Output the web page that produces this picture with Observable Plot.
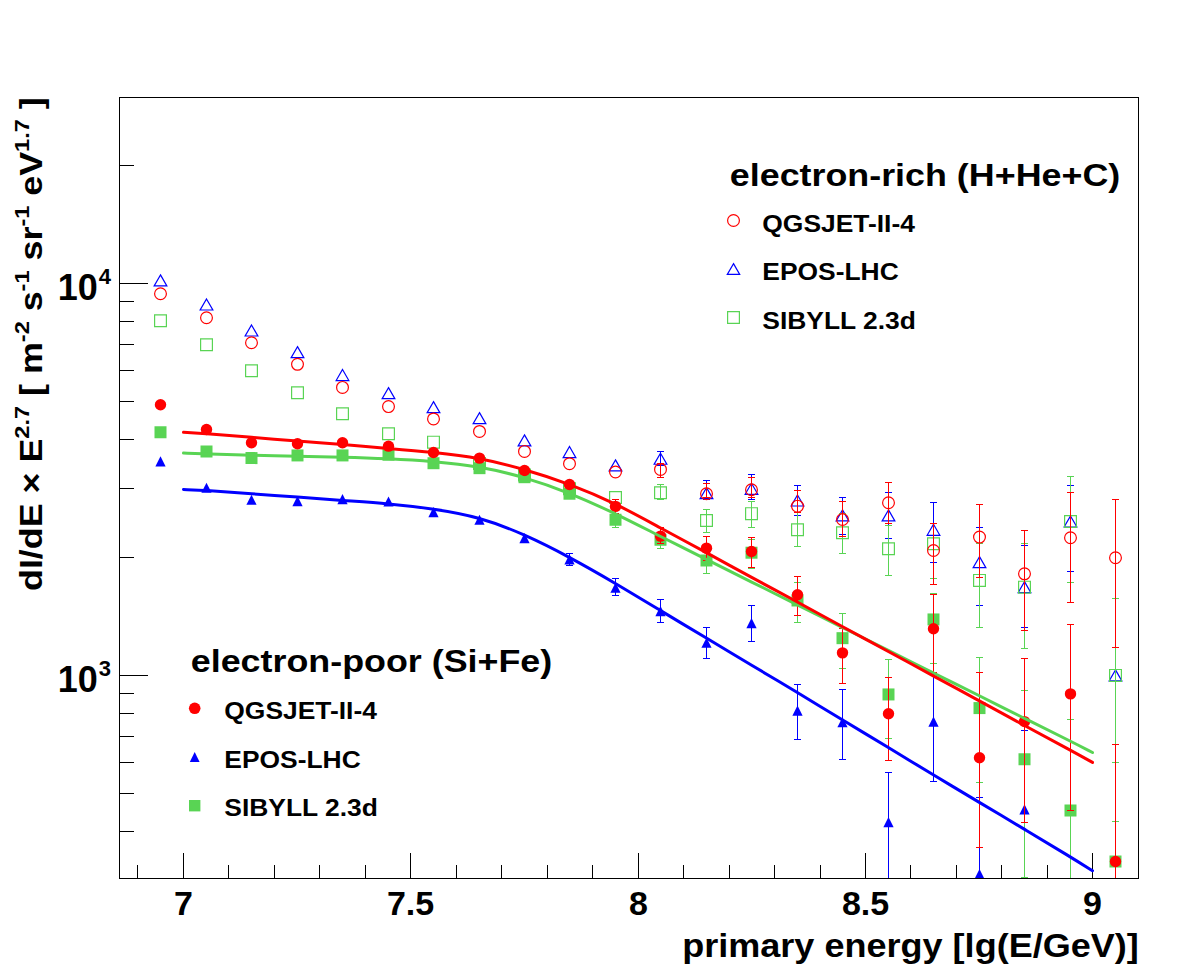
<!DOCTYPE html>
<html><head><meta charset="utf-8">
<script src="https://cdn.jsdelivr.net/npm/d3@7"></script>
<script src="https://cdn.jsdelivr.net/npm/@observablehq/plot@0.6"></script>
<style>html,body{margin:0;padding:0;background:#fff;} svg{display:block;}</style>
</head><body><div id="chart"></div>
<script>
// ---------- data ----------
const energy = [6.95,7.05,7.15,7.25,7.35,7.45,7.55,7.65,7.75,7.85,7.95,8.05,8.15,8.25,8.35,8.45,8.55,8.65,8.75,8.85,8.95,9.05];
const N = null;

// electron-rich (H+He+C), open markers
const richQGS   = [9430,8190,7070,6230,5440,4860,4520,4200,3735,3475,3310,3360,2913,2982,2708,2504,2763,2087,2258,1820,2249,2000];
const richQGSLo = [N,N,N,N,N,N,N,N,N,N,N,3211,2846,2855,2615,2260,2441,1710,1778,1305,1536,1183];
const richQGSHi = [N,N,N,N,N,N,N,N,N,N,N,3486,3089,3211,2970,2780,3118,2451,2731,2348,2940,2812];

const richEPOS   = [10200,8855,7600,6690,5850,5260,4845,4540,3985,3720,3440,3578,2923,2999,2800,2565,2565,2357,1949,1683,2475,1002];
const richEPOSLo = [N,N,N,N,N,N,N,N,N,N,N,3440,2816,2816,2564,2289,2236,1949,1511,1330,1850,425];
const richEPOSHi = [N,N,N,N,N,N,N,N,N,N,N,3741,3148,3256,3058,2844,2930,2763,2394,2150,3050,1572];

const richSIB   = [8045,6990,6000,5270,4660,4143,3944,3480,3250,3000,2850,2930,2490,2591,2357,2316,2109,2171,1751,1683,2475,1002];
const richSIBLo = [N,N,N,N,N,N,N,N,N,N,N,2812,2324,2394,2137,2048,1803,1768,1326,1172,1727,425];
const richSIBHi = [N,N,N,N,N,N,N,N,N,N,N,3070,2652,2788,2611,2600,2418,2448,2171,2171,3224,1572];

// electron-poor (Si+Fe), filled markers
const poorQGS   = [4912,4249,3930,3907,3930,3852,3712,3591,3339,3076,2704,2271,2116,2075,1609,1144,800,1318,618,764,899,336];
const poorQGSLo = [N,N,N,N,N,N,N,N,N,N,2600,2171,1968,1892,1425,954,608,1018,365,423,453,100];
const poorQGSHi = [N,N,N,N,N,N,N,N,N,N,2816,2394,2267,2249,1796,1318,992,1612,1019,1105,1349,667];

const poorEPOS   = [3521,3017,2812,2788,2821,2783,2615,2500,2244,1981,1677,1461,1214,1362,815,761,423,764,312,456,N,N];
const poorEPOSLo = [N,N,N,N,N,N,N,N,N,1911,1602,1365,1109,1226,688,611,100,538,100,100,N,N];
const poorEPOSHi = [N,N,N,N,N,N,N,N,N,2055,1768,1563,1326,1511,948,921,566,1012,489,725,N,N];

const poorSIB   = [4182,3735,3591,3648,3648,3663,3485,3385,3210,2913,2500,2223,1968,2060,1556,1247,896,1392,827,612,453,336];
const poorSIBLo = [N,N,N,N,N,N,N,N,N,N,2394,2109,1820,1880,1365,1042,691,1077,533,306,100,100];
const poorSIBHi = [N,N,N,N,N,N,N,N,N,N,2564,2302,2109,2230,1727,1440,1099,1622,1115,917,772,600];

// fit curves for electron-poor
const fitEnergy = [7.0,7.05,7.15,7.25,7.35,7.45,7.55,7.65,7.75,7.85,7.95,8.05,8.15,8.25,8.35,8.45,8.55,8.65,8.75,8.85,8.95,9.0];
const fitQGS  = [4178,4150,4055,3972,3890,3802,3715,3597,3365,3090,2754,2382,2061,1782,1542,1334,1153,998,863,746,646,601];
const fitSIB  = [3698,3681,3648,3631,3614,3581,3524,3420,3214,2931,2594,2265,1982,1734,1517,1327,1161,1016,889,778,681,637];
const fitEPOS = [2985,2972,2911,2858,2799,2748,2667,2541,2296,2009,1722,1466,1247,1064,906,771,656,558,475,406,345,318];

// ticks and labels
const xMajor = [7, 7.5, 8, 8.5, 9];
const xMinor = [6.9,7.1,7.2,7.3,7.4,7.6,7.7,7.8,7.9,8.1,8.2,8.3,8.4,8.6,8.7,8.8,8.9];
const yMajor = [1000, 10000];
const yMinor = [400,500,600,700,800,900,2000,3000,4000,5000,6000,7000,8000,9000,20000];
const modelNames = ["QGSJET-II-4", "EPOS-LHC", "SIBYLL 2.3d"];
const richTitle = "electron-rich (H+He+C)";
const poorTitle = "electron-poor (Si+Fe)";
const xTitle = "primary energy [lg(E/GeV)]";

// ---------- styling ----------
const RED = "#ff0000", BLUE = "#0000ff", GREEN = "#59d454";
const W = 1198, H = 976, ML = 119.3, MR = 59.7, MT = 97.3, MB = 97.7;
const PW = W - ML - MR, PH = H - MT - MB;

const triOpen = {draw(ctx, size){const r=Math.sqrt(size/Math.PI), h=r*0.87; ctx.moveTo(0,-h); ctx.lineTo(r,h); ctx.lineTo(-r,h); ctx.closePath();}};
const triFill = {draw(ctx, size){const r=Math.sqrt(size/Math.PI); ctx.moveTo(0,-r); ctx.lineTo(r,r); ctx.lineTo(-r,r); ctx.closePath();}};
const square  = {draw(ctx, size){const r=Math.sqrt(size/Math.PI); ctx.rect(-r,-r,2*r,2*r);}};
const capSym  = {draw(ctx, size){const r=Math.sqrt(size/Math.PI); ctx.moveTo(-r,0); ctx.lineTo(r,0);}};

function rows(v, lo, hi){ return energy.map((x,i)=>({x, v:v[i], lo:lo[i], hi:hi[i]})).filter(d=>d.v!=null); }

// drawing order as in the reference: EPOS, then SIBYLL, then QGSJET on top
const richSeries = [
  {color: BLUE,  data: rows(richEPOS, richEPOSLo, richEPOSHi), symbol: triOpen,  r: 6.35, open: true},
  {color: GREEN, data: rows(richSIB, richSIBLo, richSIBHi),   symbol: square,   r: 5.9, open: true},
  {color: RED,   data: rows(richQGS, richQGSLo, richQGSHi),   symbol: "circle", r: 5.9, open: true}
];
const poorSeries = [
  {color: BLUE,  data: rows(poorEPOS, poorEPOSLo, poorEPOSHi), symbol: triFill,  r: 5.1, open: false},
  {color: GREEN, data: rows(poorSIB, poorSIBLo, poorSIBHi),   symbol: square,   r: 6.0, open: false},
  {color: RED,   data: rows(poorQGS, poorQGSLo, poorQGSHi),   symbol: "circle", r: 5.7, open: false}
];

function seriesMarks(s){
  const errs = s.data.filter(d=>d.lo!=null);
  return [
    Plot.ruleX(errs, {x:"x", y1:"lo", y2:"hi", stroke:s.color, strokeWidth:1, shapeRendering:"crispEdges", clip:"frame"}),
    Plot.dot(errs, {x:"x", y:"hi", symbol:capSym, r:3.5, fill:"none", stroke:s.color, strokeWidth:1, shapeRendering:"crispEdges", clip:"frame"}),
    Plot.dot(errs, {x:"x", y:"lo", symbol:capSym, r:3.5, fill:"none", stroke:s.color, strokeWidth:1, shapeRendering:"crispEdges", clip:"frame"}),
    Plot.dot(s.data, {x:"x", y:"v", symbol:s.symbol, r:s.r,
      fill: s.open ? "none" : s.color, stroke: s.open ? s.color : "none",
      strokeWidth: 1.2, clip:"frame"})
  ];
}
function fitLine(xs, vs, color){
  return Plot.line(xs.map((x,i)=>({x, v:vs[i]})), {x:"x", y:"v", stroke:color, strokeWidth:3, curve:"basis", clip:"frame"});
}

// legends
const richLegendSym = [
  {symbol:"circle", r:5.9, open:true, color:RED},
  {symbol:triOpen, r:6.2, open:true, color:BLUE},
  {symbol:square, r:5.9, open:true, color:GREEN}
];
const poorLegendSym = [
  {symbol:"circle", r:5.8, open:false, color:RED},
  {symbol:triFill, r:4.9, open:false, color:BLUE},
  {symbol:square, r:5.7, open:false, color:GREEN}
];
function legend(title, tdx, tdy, syms, mdx, mdy0, tx, ty0, step){
  const m = [Plot.text([title], {frameAnchor:"top-left", text:d=>d, dx:tdx, dy:tdy, textAnchor:"start", lineAnchor:"bottom", fontSize:32, fontWeight:"bold", fill:"black"})];
  syms.forEach((s,i)=>{
    m.push(Plot.dot([modelNames[i]], {frameAnchor:"top-left", dx:mdx, dy:mdy0+i*step, symbol:s.symbol, r:s.r,
      fill: s.open ? "none" : s.color, stroke: s.open ? s.color : "none", strokeWidth:1.2}));
    m.push(Plot.text([modelNames[i]], {frameAnchor:"top-left", text:d=>d, dx:tx, dy:ty0+i*step, textAnchor:"start", lineAnchor:"bottom", fontSize:24, fontWeight:"bold", fill:"black"}));
  });
  return m;
}

const chart = Plot.plot({
  width: W, height: H,
  marginLeft: ML, marginRight: MR, marginTop: MT, marginBottom: MB,
  x: {domain: [6.86, 9.101], axis: null, round: true},
  y: {type: "log", domain: [303.4, 29810], axis: null},
  style: {fontFamily: "'Liberation Sans', Arial, sans-serif", background: "white", color: "black"},
  marks: [
    // ticks (inside the frame, ROOT style)
    Plot.ruleX(xMajor, {x:d=>d, insetTop: PH - 25.7, stroke:"black", strokeWidth:1, shapeRendering:"crispEdges"}),
    Plot.ruleX(xMinor, {x:d=>d, insetTop: PH - 13.3, stroke:"black", strokeWidth:1, shapeRendering:"crispEdges"}),
    Plot.ruleY(yMajor, {y:d=>d, insetRight: PW - 28.7, stroke:"black", strokeWidth:1, shapeRendering:"crispEdges"}),
    Plot.ruleY(yMinor, {y:d=>d, insetRight: PW - 14.3, stroke:"black", strokeWidth:1, shapeRendering:"crispEdges"}),
    // data
    ...richSeries.flatMap(seriesMarks),
    ...poorSeries.flatMap(seriesMarks),
    fitLine(fitEnergy, fitSIB, GREEN),
    fitLine(fitEnergy, fitQGS, RED),
    fitLine(fitEnergy, fitEPOS, BLUE),
    Plot.frame({stroke:"black", strokeWidth:1, shapeRendering:"crispEdges"}),
    // tick labels
    Plot.text(xMajor, {x:d=>d, text:d=>String(d), frameAnchor:"bottom", lineAnchor:"bottom", dy:35.7, fontSize:34, fontWeight:"bold", fill:"black"}),
    Plot.text(yMajor, {y:d=>d, text:()=> "10", frameAnchor:"left", textAnchor:"end", lineAnchor:"bottom", dx:-22, dy:16, fontSize:36, fontWeight:"bold", fill:"black"}),
    Plot.text(yMajor, {y:d=>d, text:d=>String(Math.round(Math.log10(d))), frameAnchor:"left", textAnchor:"start", lineAnchor:"bottom", dx:-21, dy:0, fontSize:22, fontWeight:"bold", fill:"black"}),
    // x title
    Plot.text([xTitle], {frameAnchor:"bottom-right", text:d=>d, textAnchor:"end", lineAnchor:"bottom", dy:77.7, fontSize:34, fontWeight:"bold", fill:"black"}),
    // legends
    ...legend(richTitle, 610, 87.7, richLegendSym, 613.7, 122.7, 642.5, 133.7, 48.5),
    ...legend(poorTitle, 71, 574.4, poorLegendSym, 74.9, 610.5, 104.5, 621, 48.7)
  ]
});

document.getElementById("chart").appendChild(chart);
const svg = chart;

// y-axis title with superscripts
const yt = d3.select(svg).append("text")
  .attr("class", "ytitle")
  .attr("transform", `translate(42,${MT}) rotate(-90)`)
  .attr("text-anchor", "end")
  .attr("font-family", "'Liberation Sans', Arial, sans-serif")
  .attr("font-weight", "bold")
  .attr("font-size", 32)
  .attr("fill", "black");
const parts = [["dI/dE \u00d7 E", false], ["2.7", true], [" [ m", false], ["-2", true], [" s", false], ["-1", true], [" sr", false], ["-1", true], [" eV", false], ["1.7", true], [" ]", false]];
let raised = false;
parts.forEach(([t, sup]) => {
  const ts = yt.append("tspan").text(t);
  if (sup) { ts.attr("font-size", 21).attr("dy", raised ? 0 : -13); raised = true; }
  else { ts.attr("dy", raised ? 13 : 0); raised = false; }
});

// horizontal stretch to mimic the wide ROOT font
const stretchBy = new Map([[richTitle, 1.12], [poorTitle, 1.12], [xTitle, 1.06],
  [modelNames[0], 1.1], [modelNames[1], 1.1], [modelNames[2], 1.1]]);
svg.querySelectorAll("text").forEach(t => {
  let f = stretchBy.get(t.textContent);
  if (t.classList.contains("ytitle")) f = 1.12;
  if (!f) return;
  const w = t.getComputedTextLength();
  t.setAttribute("textLength", (w*f).toFixed(1));
  t.setAttribute("lengthAdjust", "spacingAndGlyphs");
});
</script></body></html>
